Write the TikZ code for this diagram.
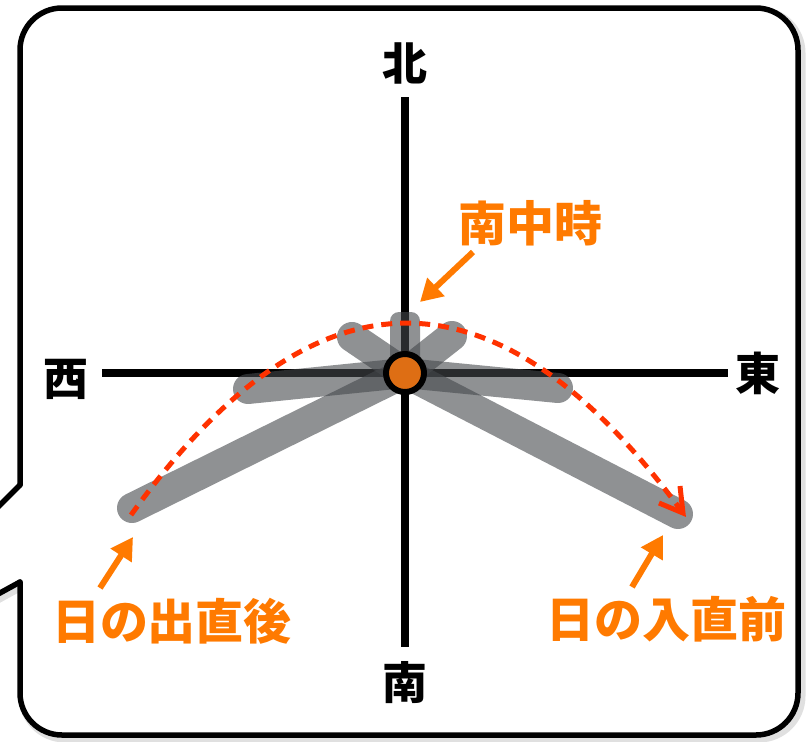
\documentclass[tikz,border=0pt]{standalone}
\usepackage{fontspec}
\newfontfamily\cjk{Noto Sans CJK JP}
\usetikzlibrary{arrows.meta}
\definecolor{lbl}{RGB}{255,122,0}
\definecolor{arccol}{RGB}{255,50,0}
\definecolor{stick}{RGB}{69,72,76}
\definecolor{dotcol}{RGB}{222,110,20}
\begin{document}
\begin{tikzpicture}[x=1pt,y=-1pt,
  dirlbl/.style={font=\cjk\bfseries\fontsize{45}{45}\selectfont, text=black, inner sep=0pt},
  orlbl/.style={font=\cjk\bfseries\fontsize{48}{48}\selectfont, text=lbl, inner sep=0pt},
  axisline/.style={line width=8pt, draw=black},
  stickline/.style={line width=30pt, line cap=round, draw=stick, draw opacity=0.6},
  orarrow/.style={draw=lbl, line width=6pt, -{Triangle[length=22pt, width=24pt]}},
  bubble/.style={line width=5.5pt, draw=black, line cap=round},
  arcline/.style={draw=arccol, line width=5pt},
  ]
\useasboundingbox (0,0) rectangle (809,742);
\clip (0,0) rectangle (809,742);
% shadow
\begin{scope}[shift={(3,3)}]
  \draw[line width=9pt, draw=black!12, rounded corners=42pt] (20,485) -- (20,8) -- (798,8) -- (798,735) -- (20,735) -- (20,582);
  \draw[line width=9pt, draw=black!12] (20,582) -- (-195,700);
\end{scope}
% bubble
\fill[white, rounded corners=42pt] (20,8) rectangle (798,735);
\fill[white] (22,485) -- (-195,700) -- (22,582) -- cycle;
\draw[bubble, rounded corners=42pt] (20,485) -- (20,8) -- (798,8) -- (798,735) -- (20,735) -- (20,582);
\draw[bubble, line join=miter] (20,485) -- (-195,700) -- (20,582);
% axes
\coordinate (N) at (405,97);
\coordinate (S) at (405,647);
\coordinate (W) at (102,373);
\coordinate (E) at (728,373);
\coordinate (c) at (405,373);
\draw[axisline] (N) -- (S);
\draw[axisline] (W) -- (E);
% sticks (shadows)
\coordinate (s1) at (132,508);
\coordinate (s2) at (248,389);
\coordinate (s3) at (678,514);
\coordinate (s4) at (558,388);
\coordinate (s5) at (352,337);
\coordinate (s7) at (452,336);
\foreach \s in {s1,s2,s3,s4,s5,s7} \draw[stickline] (c) -- (\s);
\fill[stick, fill opacity=0.6, rounded corners=9pt] (390,312) rectangle (420,380);
% path of the sun
\coordinate (a0) at (131,515);
\coordinate (a1) at (683,513);
\coordinate (b1) at (659,503);
\coordinate (b2) at (680,486);
\draw[arcline, dash pattern=on 11pt off 8pt]
  (a0) .. controls (314,260) and (497,259) .. (a1);
\draw[arcline, line join=miter] (b1) -- (a1) -- (b2);
% centre
\node[circle, fill=dotcol, draw=black, line width=6pt, minimum size=38pt, inner sep=0pt] (sun) at (c) {};
% direction labels
\node[dirlbl] (kita) at (405,63) {北};
\node[dirlbl] (minami) at (405,683) {南};
\node[dirlbl] (nishi) at (66,379) {西};
\node[dirlbl] (higashi) at (758,373) {東};
% orange labels
\node[orlbl] (nanchu) at (530,223) {南中時};
\node[orlbl] (hinode) at (172,621) {日の出直後};
\node[orlbl] (hinoiri) at (666,619) {日の入直前};
\coordinate (t1) at (473,252); \coordinate (h1) at (420,302);
\coordinate (t2) at (100,588); \coordinate (h2) at (133,537);
\coordinate (t3) at (632,587); \coordinate (h3) at (663,535);
\draw[orarrow] (t1) -- (h1);
\draw[orarrow] (t2) -- (h2);
\draw[orarrow] (t3) -- (h3);
\end{tikzpicture}
\end{document}
